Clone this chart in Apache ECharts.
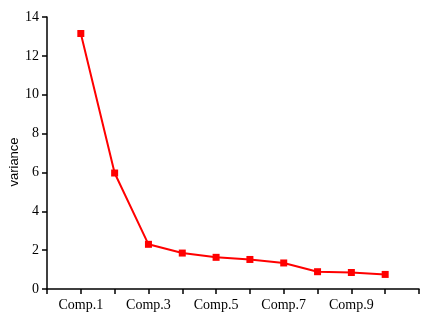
<!DOCTYPE html>
<html>
<head>
<meta charset="utf-8">
<script src="https://cdn.jsdelivr.net/npm/echarts@6/dist/echarts.min.js"></script>
<style>
  html, body { margin: 0; padding: 0; background: #fff; }
  #chart { width: 429px; height: 322px; }
</style>
</head>
<body>
<div id="chart"></div>
<script>
// components and their variances
var comps = ['Comp.1', 'Comp.2', 'Comp.3', 'Comp.4', 'Comp.5',
             'Comp.6', 'Comp.7', 'Comp.8', 'Comp.9', 'Comp.10'];
var variances = [13.15, 5.97, 2.30, 1.85, 1.63, 1.52, 1.34, 0.89, 0.85, 0.75];
var yTicks = [0, 14, 2]; // min, max, step

var pts = [];
for (var i = 0; i < comps.length; i++) {
  pts.push([i + 1, variances[i]]);
}

var myChart = echarts.init(document.getElementById('chart'));

var axisTxt = { color: '#000', fontFamily: 'Liberation Serif', fontSize: 14 };

var option = {
  animation: false,
  grid: { left: 47, top: 17, right: 10, bottom: 33, containLabel: false, outerBoundsMode: 'none' },
  xAxis: {
    type: 'value',
    min: 0,
    max: comps.length + 1,
    interval: 1,
    splitLine: { show: false },
    axisLine: { lineStyle: { color: '#000', width: 1.5 } },
    axisTick: { show: true, length: 5, lineStyle: { color: '#000', width: 1.5 } },
    axisLabel: Object.assign({
      margin: 9,
      showMinLabel: true,
      showMaxLabel: true,
      formatter: function (v) {
        // only every other component gets a label
        if (v >= 1 && v < comps.length && v % 2 === 1) return comps[v - 1];
        return '';
      }
    }, axisTxt)
  },
  yAxis: {
    type: 'value',
    min: yTicks[0],
    max: yTicks[1],
    interval: yTicks[2],
    name: 'variance',
    nameLocation: 'middle',
    nameGap: 26,
    nameMoveOverlap: false,
    nameTextStyle: { color: '#000', fontFamily: 'Liberation Sans', fontSize: 13, padding: [0, 18, 0, 0] },
    splitLine: { show: false },
    axisLine: { show: true, lineStyle: { color: '#000', width: 1.5 } },
    axisTick: { show: true, length: 5, lineStyle: { color: '#000', width: 1.5 } },
    axisLabel: Object.assign({ margin: 8 }, axisTxt)
  },
  series: [
    {
      type: 'line',
      data: pts,
      symbol: 'rect',
      symbolSize: 7,
      lineStyle: { color: '#ff0000', width: 2 },
      itemStyle: { color: '#ff0000' }
    }
  ]
};

myChart.setOption(option);
</script>
</body>
</html>
